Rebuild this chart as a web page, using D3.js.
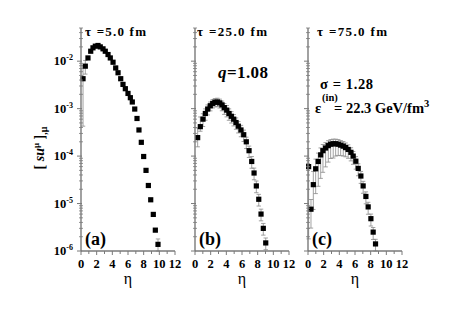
<!DOCTYPE html>
<html>
<head>
<meta charset="utf-8">
<script src="https://cdn.jsdelivr.net/npm/d3@7"></script>
<style>
  body { margin: 0; background: #fff; }
</style>
</head>
<body>
<svg width="463" height="315" font-family="'Liberation Serif', 'Times New Roman', Times, serif" font-weight="bold"></svg>
<script>
// panel (a) tau = 5 fm
const etaA = [0.26,0.55,0.89,1.24,1.53,1.83,2.17,2.46,2.81,3.10,3.45,3.74,4.09,4.43,4.73,5.07,5.36,5.66,6.00,6.30,6.55,6.86,7.15,7.40,7.70,8.00,8.30,8.60,8.90,9.23,9.49,9.83]
const valA = [4.27e-3,7.85e-3,1.17e-2,1.62e-2,1.91e-2,2.07e-2,2.14e-2,2.0e-2,1.82e-2,1.62e-2,1.38e-2,1.17e-2,9.5e-3,7.2e-3,5.7e-3,4.27e-3,3.24e-3,2.63e-3,2.09e-3,1.70e-3,1.38e-3,9.8e-4,6.2e-4,3.55e-4,1.95e-4,9.8e-5,5.0e-5,2.4e-5,1.2e-5,5.9e-6,2.75e-6,1.38e-6]
const loA  = [0.9,0.32,0,0,0,0,0,0,0,0,0,0,0,0,0,0,0,0,0,0,0,0,0,0,0,0,0,0,0,0,0,0.3]
const hiA  = [0.9,0.32,0,0,0,0,0,0,0,0,0,0,0,0,0,0,0,0,0,0,0,0,0,0,0,0,0,0,0,0,0,0.3]

// panel (b) tau = 25 fm
const etaB = [0.34,0.68,1.02,1.32,1.62,1.95,2.26,2.55,2.85,3.15,3.45,3.74,4.05,4.34,4.64,4.94,5.24,5.53,5.87,6.22,6.55,6.90,7.24,7.54,7.83,8.14,8.43,8.72,9.03]
const valB = [2.45e-4,4.17e-4,6.0e-4,7.9e-4,9.8e-4,1.15e-3,1.29e-3,1.36e-3,1.38e-3,1.32e-3,1.20e-3,1.05e-3,9.3e-4,7.9e-4,6.9e-4,6.0e-4,5.1e-4,4.27e-4,3.55e-4,2.82e-4,2.0e-4,1.30e-4,7.7e-5,4.4e-5,2.35e-5,1.23e-5,6.0e-6,3.0e-6,1.48e-6]
const loB  = [0.36,0.2,0.3,0.28,0.25,0.22,0.2,0.2,0.2,0.22,0.25,0.28,0.28,0.28,0.28,0.28,0.28,0.28,0.28,0.28,0.28,0.28,0.28,0.28,0.28,0.28,0.28,0.28,0.28]
const hiB  = [0.6,0.6,0.3,0.25,0.22,0.2,0.2,0.2,0.2,0.2,0.2,0.22,0.25,0.25,0.25,0.25,0.25,0.25,0.25,0.25,0.25,0.25,0.27,0.27,0.27,0.27,0.27,0.27,0.27]

// panel (c) tau = 75 fm
const etaC = [0.08,0.38,0.68,0.98,1.31,1.62,1.91,2.25,2.59,2.89,3.22,3.53,3.86,4.17,4.50,4.80,5.13,5.48,5.77,6.11,6.41,6.75,7.04,7.39,7.68,8.03,8.32,8.62]
const valC = [6.0e-5,7.6e-6,2.5e-5,5.4e-5,7.7e-5,1.06e-4,1.30e-4,1.48e-4,1.66e-4,1.78e-4,1.82e-4,1.82e-4,1.78e-4,1.70e-4,1.62e-4,1.51e-4,1.38e-4,1.20e-4,1.0e-4,7.8e-5,5.5e-5,3.8e-5,2.35e-5,1.41e-5,8.5e-6,4.8e-6,2.5e-6,1.41e-6]
const loC  = [0.97,0.6,0.7,0.7,0.7,0.68,0.65,0.6,0.55,0.5,0.5,0.45,0.42,0.4,0.38,0.36,0.35,0.34,0.33,0.32,0.3,0.3,0.3,0.3,0.3,0.3,0.3,0.3]
const hiC  = [1.4,0.6,0.9,0.6,0.5,0.4,0.35,0.3,0.27,0.25,0.25,0.25,0.25,0.25,0.25,0.25,0.25,0.25,0.25,0.25,0.25,0.25,0.25,0.25,0.25,0.25,0.25,0.25]

const xTicks = [0,2,4,6,8,10,12]
const yTicks = [1e-6,1e-5,1e-4,1e-3,1e-2]
const yExps = ['-6','-5','-4','-3','-2']
const titles = ['\u03c4 =5.0  fm', '\u03c4 =25.0  fm', '\u03c4 =75.0  fm']
const letters = ['(a)', '(b)', '(c)']

let svg = d3.select('svg')

// panel boxes (left, right) in px; all share the same vertical range
let panels = [
    {x0: 81, x1: 175, tx: 85, tw: 61, eta: etaA, val: valA, lo: loA, hi: hiA},
    {x0: 195, x1: 289, tx: 197, tw: 70, eta: etaB, val: valB, lo: loB, hi: hiB},
    {x0: 308, x1: 402, tx: 317, tw: 70, eta: etaC, val: valC, lo: loC, hi: hiC}
]
let yTop = 28, yBot = 251

let y = d3.scaleLog().domain([1e-6, 5e-2]).range([yBot, yTop]).clamp(true)

// minor ticks 2..9 each decade
let minor = []
for (let e = -6; e <= -2; e++) {
    for (let m = 2; m <= 9; m++) {
        let v = m * Math.pow(10, e)
        if (v <= 5e-2) minor.push(v)
    }
}

const axisCol = '#7a7a7a'
const errCol = '#8a8a8a'

panels.forEach((p, i) => {
    let x = d3.scaleLinear().domain([0, 12]).range([p.x0, p.x1])
    let g = svg.append('g')

    // error bars
    let eb = g.append('g').attr('stroke', errCol).attr('stroke-width', 0.8)
    p.eta.forEach((e, k) => {
        if (!p.lo[k] && !p.hi[k]) return
        let v = p.val[k]
        let yl = y(v * (1 - p.lo[k])), yh = y(v * (1 + p.hi[k]))
        let cx = x(e)
        eb.append('line').attr('x1', cx).attr('x2', cx).attr('y1', yl).attr('y2', yh)
        eb.append('line').attr('x1', cx - 2.2).attr('x2', cx + 2.2).attr('y1', yl).attr('y2', yl)
        eb.append('line').attr('x1', cx - 2.2).attr('x2', cx + 2.2).attr('y1', yh).attr('y2', yh)
    })

    // squares
    g.append('g').selectAll('rect')
        .data(p.eta.map((e, k) => [e, p.val[k]]))
        .enter().append('rect')
        .attr('x', d => x(d[0]) - 2.6)
        .attr('y', d => y(d[1]) - 2.6)
        .attr('width', 5.2).attr('height', 5.2)
        .attr('fill', '#000')

    // axes
    let ax = g.append('g').attr('stroke', axisCol)
    ax.append('line').attr('x1', p.x0).attr('x2', p.x0).attr('y1', yTop).attr('y2', yBot).attr('stroke-width', 1.4)
    ax.append('line').attr('x1', p.x0).attr('x2', p.x1).attr('y1', yBot).attr('y2', yBot).attr('stroke-width', 1.4)
    yTicks.forEach(t => {
        ax.append('line').attr('x1', p.x0 - 4).attr('x2', p.x0 + 1).attr('y1', y(t)).attr('y2', y(t)).attr('stroke-width', 1)
    })
    minor.forEach(t => {
        ax.append('line').attr('x1', p.x0 - 2).attr('x2', p.x0 + 2).attr('y1', y(t)).attr('y2', y(t)).attr('stroke-width', 0.8)
    })
    d3.range(0, 13).forEach(t => {
        let len = t % 2 === 0 ? 4 : 3
        ax.append('line').attr('x1', x(t)).attr('x2', x(t)).attr('y1', yBot).attr('y2', yBot + len).attr('stroke-width', 1)
    })

    // x tick labels
    g.append('g').selectAll('text').data(xTicks).enter().append('text')
        .attr('x', d => x(d)).attr('y', 268)
        .attr('text-anchor', 'middle').attr('font-size', 12.5)
        .text(d => d)

    // y tick labels only on the first panel
    if (i === 0) {
        yTicks.forEach((t, k) => {
            let tx = g.append('text').attr('x', p.x0 - 8).attr('y', y(t) + 4)
                .attr('text-anchor', 'end').attr('font-size', 12.5)
            tx.append('tspan').text('10')
            tx.append('tspan').attr('dy', -5).attr('font-size', 8).text(yExps[k])
        })
    }

    // eta label
    g.append('text').attr('x', (p.x0 + p.x1) / 2).attr('y', 284)
        .attr('text-anchor', 'middle').attr('font-size', 16).attr('font-weight', 'normal')
        .text('\u03b7')

    // title
    g.append('text').attr('x', p.tx).attr('y', 36).attr('font-size', 13)
        .attr('textLength', p.tw).attr('lengthAdjust', 'spacing')
        .text(titles[i])

    // panel letter
    g.append('text').attr('x', p.x0 + 4).attr('y', 245).attr('font-size', 18)
        .text(letters[i])
})

// annotations
svg.append('text').attr('x', 218).attr('y', 78).attr('font-size', 17)
    .attr('textLength', 50).attr('lengthAdjust', 'spacing')
    .call(t => {
        t.append('tspan').attr('font-style', 'italic').text('q')
        t.append('tspan').text('=1.08')
    })

svg.append('text').attr('x', 320).attr('y', 89).attr('font-size', 14.5)
    .attr('textLength', 53).attr('lengthAdjust', 'spacing').text('\u03c3 = 1.28')
svg.append('text').attr('x', 315).attr('y', 113).attr('font-size', 14.5).text('\u03b5')
svg.append('text').attr('x', 322).attr('y', 101).attr('font-size', 10.5).text('(in)')
svg.append('text').attr('x', 334).attr('y', 113).attr('font-size', 14.5)
    .call(t => {
        t.append('tspan').text('= 22.3 GeV/fm')
        t.append('tspan').attr('dy', -6).attr('font-size', 10.5).text('3')
    })

// y axis title
svg.append('text')
    .attr('transform', 'translate(44,148) rotate(-90)')
    .attr('text-anchor', 'middle').attr('font-size', 14)
    .call(t => {
        t.append('tspan').text('[ ')
        t.append('tspan').attr('font-style', 'italic').text('su')
        t.append('tspan').attr('dy', -5).attr('font-size', 9).text('\u03bc')
        t.append('tspan').attr('dy', 5).text(' ]')
        t.append('tspan').attr('dy', 3).attr('font-size', 10).text(',\u03bc')
    })
</script>
</body>
</html>
